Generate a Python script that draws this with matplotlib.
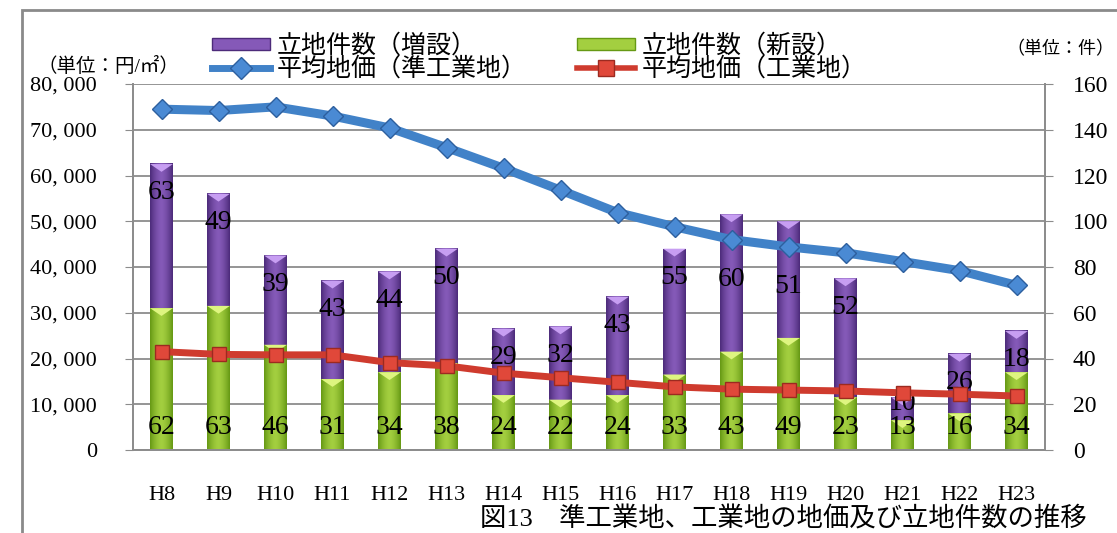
import numpy as np
import matplotlib.pyplot as plt
from matplotlib.patches import Patch, Polygon, Rectangle
from matplotlib.lines import Line2D
from matplotlib.ticker import FuncFormatter

plt.rcParams['font.family'] = ['Liberation Serif', 'Noto Sans CJK JP']

years = ["H8", "H9", "H10", "H11", "H12", "H13", "H14", "H15",
         "H16", "H17", "H18", "H19", "H20", "H21", "H22", "H23"]
new_sites = [62, 63, 46, 31, 34, 38, 24, 22, 24, 33, 43, 49, 23, 13, 16, 34]      # 立地件数（新設）
added_sites = [63, 49, 39, 43, 44, 50, 29, 32, 43, 55, 60, 51, 52, 10, 26, 18]    # 立地件数（増設）
price_semi = [74500, 74200, 75000, 73000, 70400, 66100, 61600, 56800,
              51900, 48800, 46000, 44400, 43100, 41200, 39200, 36000]               # 平均地価（準工業地）
price_ind = [21500, 20900, 20800, 20800, 19100, 18400, 16800, 15800,
             14800, 13800, 13300, 13100, 12900, 12500, 12200, 11800]                # 平均地価（工業地）

PURPLE = dict(edge=(0.30, 0.17, 0.48), mid=(0.52, 0.35, 0.72), top=(0.78, 0.62, 0.95))
GREEN = dict(edge=(0.40, 0.60, 0.08), mid=(0.64, 0.81, 0.25), top=(0.87, 0.96, 0.50))
BLUE = "#4182c8"
RED = "#cf3b2e"
GRID = "#8c8c8c"
PRICE_PER_COUNT = 80000 / 160


def shaded_segment(ax, x, bottom, height, width, pal):
    """Draw one bar segment with a horizontal gradient and a bevel on top."""
    if height <= 0:
        return
    t = np.abs(np.linspace(-1, 1, 40)) ** 1.6
    edge, mid = np.array(pal["edge"]), np.array(pal["mid"])
    cols = mid[None, :] * (1 - t[:, None]) + edge[None, :] * t[:, None]
    ax.imshow(cols[None, :, :], extent=(x - width / 2, x + width / 2, bottom, bottom + height),
              aspect="auto", origin="lower", zorder=2, interpolation="bilinear")
    bev = min(3.4, height * 0.45)
    top = bottom + height
    tri = Polygon([(x - width / 2, top), (x + width / 2, top), (x, top - bev)],
                  closed=True, facecolor=pal["top"], edgecolor="none", zorder=2.5)
    ax.add_patch(tri)


fig = plt.figure(figsize=(11.17, 5.33), dpi=100)
ax2 = fig.add_axes([133 / 1117, 1 - 450 / 533, (1045 - 133) / 1117, 366 / 533])
ax = ax2.twinx()
ax.set_zorder(ax2.get_zorder() + 1)
ax.patch.set_visible(False)

x = np.arange(len(years))
w = 0.4

# stacked bars on the count axis (right)
for i in x:
    shaded_segment(ax2, i, 0, new_sites[i], w, GREEN)
    shaded_segment(ax2, i, new_sites[i], added_sites[i], w, PURPLE)
    ax2.text(i, 10, str(new_sites[i]), ha="center", va="center", fontsize=20, zorder=3)
    tot = new_sites[i] + added_sites[i]
    # short segments: keep the label near the top so it clears the lower one
    ly = tot - 12.5 if added_sites[i] >= 15 else tot - 2.5
    # push the label below the blue line when they would collide
    line_y = price_semi[i] / PRICE_PER_COUNT
    if abs(ly - line_y) < 10:
        ly = line_y - 17.5
    ax2.text(i, ly, str(added_sites[i]), ha="center", va="center", fontsize=20, zorder=3)

ax2.set_xlim(-0.5, len(years) - 0.5)
ax2.set_ylim(0, 160)
ax2.set_yticks(np.arange(0, 161, 20))
ax2.yaxis.tick_right()
ax2.yaxis.set_label_position("right")
ax2.grid(axis="y", color=GRID, lw=1.3)
ax2.set_axisbelow(True)

# land price lines on the price axis (left)
ax.plot(x, price_semi, color=BLUE, lw=6.5, marker="D", ms=10,
        mfc="#4a8ad4", mec="#2d5f9e", mew=1, zorder=5)
ax.plot(x, price_ind, color=RED, lw=5, marker="s", ms=10,
        mfc="#e0483a", mec="#9c2a20", mew=1, zorder=5)
ax.set_ylim(0, 80000)
ax.set_yticks(np.arange(0, 80001, 10000))
ax.yaxis.tick_left()
ax.yaxis.set_major_formatter(FuncFormatter(lambda v, p: "0" if v == 0 else f"{int(v):,}".replace(",", ", ")))

for a in (ax, ax2):
    for s in a.spines.values():
        s.set_color(GRID)
        s.set_linewidth(1.3)
    a.spines["top"].set_visible(False)

ax.tick_params(axis="y", direction="out", length=6, color=GRID, labelsize=16, pad=20)
ax2.tick_params(axis="y", direction="out", length=6, color=GRID, labelsize=17, pad=14)

# category ticks sit between bars, labels under each bar
ax2.set_xticks(np.arange(-0.5, len(years), 1))
ax2.set_xticklabels([])
ax2.tick_params(axis="x", direction="out", length=8, color=GRID)
ax2.set_xticks(x, minor=True)
ax2.set_xticklabels(years, minor=True, fontsize=16)
ax2.tick_params(axis="x", which="minor", length=0, pad=26)
ax.set_xticks([])

# unit labels
fig.text(38 / 1117, 1 - 67 / 533, "（単位：円/㎡）", fontsize=14, va="center", ha="left")
fig.text(1114 / 1117, 1 - 50 / 533, "（単位：件）", fontsize=13, va="center", ha="right")

handles = [
    Patch(facecolor=PURPLE["mid"], edgecolor=PURPLE["edge"]),
    Line2D([], [], color=BLUE, lw=5, marker="D", ms=11, mfc="#4a8ad4", mec="#2d5f9e"),
    Patch(facecolor=GREEN["mid"], edgecolor=GREEN["edge"]),
    Line2D([], [], color=RED, lw=4, marker="s", ms=11, mfc="#e0483a", mec="#9c2a20"),
]
labels = ["立地件数（増設）", "平均地価（準工業地）", "立地件数（新設）", "平均地価（工業地）"]
fig.legend(handles, labels, ncol=2, loc="upper left", bbox_to_anchor=(212 / 1117, 1 - 34 / 533),
           frameon=False, fontsize=18, handlelength=2.3, handleheight=0.4, handletextpad=0.3,
           labelspacing=-0.05, columnspacing=2.0, borderaxespad=0, borderpad=0)

fig.text(1087 / 1117, 1 - 519 / 533, "図13　準工業地、工業地の地価及び立地件数の推移",
         fontsize=19, ha="right", va="center")

# outer frame
fig.add_artist(Rectangle((22 / 1117, -0.1), 1.2, 1 - 10 / 533 + 0.1, transform=fig.transFigure,
                         fill=False, edgecolor="#8a8a8a", lw=2))

fig.savefig("out.png", dpi=100)
